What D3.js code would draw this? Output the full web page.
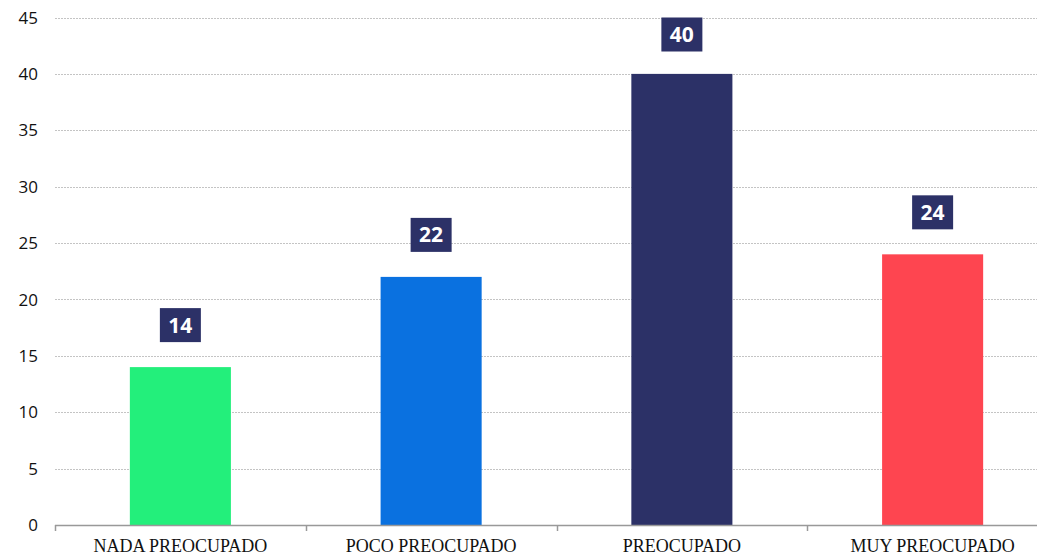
<!DOCTYPE html>
<html>
<head>
<meta charset="utf-8">
<script src="https://cdn.jsdelivr.net/npm/d3@7"></script>
<style>
  body { margin: 0; background: #fff; }
  svg { display: block; }
</style>
</head>
<body>
<svg id="chart"></svg>
<script>
const categories = ['NADA PREOCUPADO', 'POCO PREOCUPADO', 'PREOCUPADO', 'MUY PREOCUPADO'];
const values = [14, 22, 40, 24];
const colors = ['#23ef7b', '#0a71e0', '#2c3167', '#fe4550'];
const yTicks = [0, 5, 10, 15, 20, 25, 30, 35, 40, 45];

const width = 1037;
const height = 555;
const plotLeft = 55;
const plotTop = 17.5;
const plotBottom = 525;

const svg = d3.select('#chart')
  .attr('width', width)
  .attr('height', height);

// bands are wider than the visible area, last one runs off the edge
const x = d3.scaleBand()
  .domain(categories)
  .range([plotLeft, plotLeft + 4 * 250.75])
  .padding(0);

const y = d3.scaleLinear()
  .domain([0, 45])
  .range([plotBottom, plotTop]);

// gridlines
svg.append('g')
  .selectAll('line')
  .data(yTicks.filter(d => d > 0))
  .enter()
  .append('line')
  .attr('x1', plotLeft)
  .attr('x2', width)
  .attr('y1', d => Math.round(y(d)) + 0.5)
  .attr('y2', d => Math.round(y(d)) + 0.5)
  .attr('stroke', '#c4c4c4')
  .attr('stroke-dasharray', '2,1');

// y labels
svg.append('g')
  .selectAll('text')
  .data(yTicks)
  .enter()
  .append('text')
  .attr('x', 38)
  .attr('y', d => y(d))
  .attr('dy', '0.36em')
  .attr('text-anchor', 'end')
  .attr('font-family', 'Open Sans, sans-serif')
  .attr('font-size', 17)
  .attr('fill', '#111')
  .text(d => d);

// bars
const barW = x.bandwidth() * 0.403;
svg.append('g')
  .selectAll('rect')
  .data(values)
  .enter()
  .append('rect')
  .attr('x', (d, i) => x(categories[i]) + (x.bandwidth() - barW) / 2)
  .attr('y', d => y(d))
  .attr('width', barW)
  .attr('height', d => plotBottom - y(d))
  .attr('fill', (d, i) => colors[i]);

// x axis
svg.append('line')
  .attr('x1', plotLeft)
  .attr('x2', width)
  .attr('y1', plotBottom + 0.5)
  .attr('y2', plotBottom + 0.5)
  .attr('stroke', '#999')
  .attr('stroke-width', 1.5);

svg.append('g')
  .selectAll('line')
  .data(categories)
  .enter()
  .append('line')
  .attr('x1', d => Math.round(x(d)) + 0.5)
  .attr('x2', d => Math.round(x(d)) + 0.5)
  .attr('y1', plotBottom)
  .attr('y2', plotBottom + 6)
  .attr('stroke', '#999')
  .attr('stroke-width', 1.5);

svg.append('g')
  .selectAll('text')
  .data(categories)
  .enter()
  .append('text')
  .attr('x', d => x(d) + x.bandwidth() / 2)
  .attr('y', 552)
  .attr('text-anchor', 'middle')
  .attr('font-family', 'Liberation Serif, Times New Roman, serif')
  .attr('font-size', 18)
  .attr('fill', '#111')
  .text(d => d);

// value labels
const boxW = 41;
const boxH = 34;
const labels = svg.append('g')
  .selectAll('g')
  .data(values)
  .enter()
  .append('g')
  .attr('transform', (d, i) => {
    const cx = x(categories[i]) + x.bandwidth() / 2;
    const ty = Math.max(plotTop, y(d) - 59);
    return `translate(${cx - boxW / 2}, ${ty})`;
  });

labels.append('rect')
  .attr('width', boxW)
  .attr('height', boxH)
  .attr('fill', '#2c3167');

labels.append('text')
  .attr('x', boxW / 2)
  .attr('y', boxH / 2)
  .attr('dy', '0.36em')
  .attr('text-anchor', 'middle')
  .attr('font-family', 'Open Sans, sans-serif')
  .attr('font-weight', 'bold')
  .attr('font-size', 21)
  .attr('fill', '#fff')
  .text(d => d);
</script>
</body>
</html>
